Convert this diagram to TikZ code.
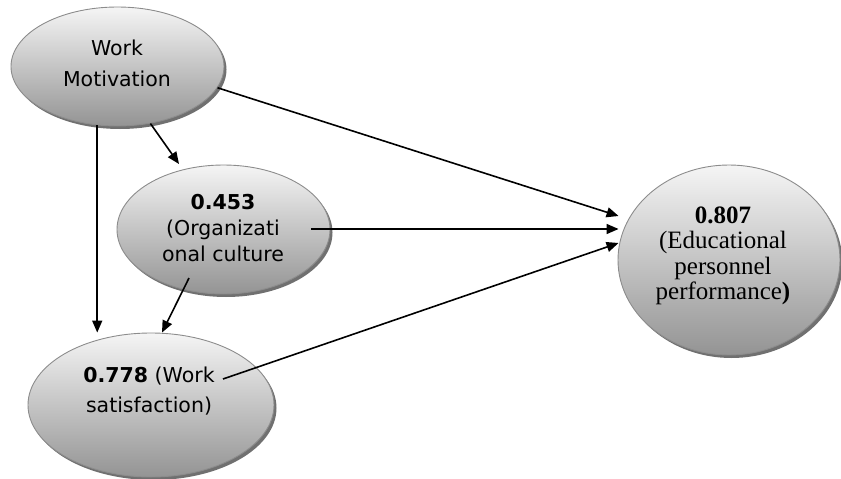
\documentclass[tikz,border=0pt]{standalone}
\usepackage{fontspec}
\setmainfont{Liberation Serif}
\newfontfamily\labsans{DejaVu Sans}
\usetikzlibrary{arrows.meta,shadows,shapes.geometric,calc}
\begin{document}
\begin{tikzpicture}[x=1pt,y=-1pt,
  bubble/.style={ellipse, draw=black!45, line width=0.9pt, inner sep=0pt,
    top color=black!4, bottom color=black!42,
    drop shadow={shadow xshift=2.5pt, shadow yshift=-3pt, fill=black!70, opacity=0.8}},
  sanslab/.style={align=center, inner sep=0pt, font=\labsans\fontsize{20.5}{#1}\selectfont},
  seriflab/.style={align=center, inner sep=0pt, font=\fontsize{25}{25.5}\selectfont},
  arr/.style={line width=1.6pt, -{Triangle[length=12pt,width=10pt]}}]
\useasboundingbox (0,0) rectangle (841,479);
% ellipses
\node[bubble, minimum width=213pt, minimum height=119pt] (wm) at (117.5,66.5) {};
\node[bubble, minimum width=213pt, minimum height=129pt] (oc) at (223.5,229.5) {};
\node[bubble, minimum width=246pt, minimum height=144pt] (ws) at (151,405) {};
\node[bubble, minimum width=222pt, minimum height=190pt] (ep) at (729,260) {};
% labels
\node[sanslab=31] (wmt) at (117,63) {Work\\Motivation};
\node[sanslab=26] (oct) at (223,228) {\textbf{0.453}\\(Organizati\\onal culture};
\node[sanslab=30] (wst) at (149,391) {\textbf{0.778} (Work\\satisfaction)};
\node[seriflab] (ept) at (723,256) {\textbf{0.807}\\(Educational\\personnel\\performance\textbf{)}};
% connector ends
\coordinate (ocs) at ($(oc.center)+(87.5,-0.5)$);
\coordinate (ocd) at ($(oc.center)+(-34.5,48.5)$);
\coordinate (wss) at ($(ws.center)+(72,-26)$);
\coordinate (ep1) at ($(ep.west)+(1,-44)$);
\coordinate (ep2) at ($(ep.west)+(1,-31)$);
\coordinate (ep3) at ($(ep.west)+(1,-17)$);
\coordinate (oct1) at ($(oc.center)+(-44.5,-65.5)$);
\coordinate (wsn) at ($(ws.north)+(11,0)$);
% connectors
\draw[arr] (wm.-12) -- (ep1);
\draw[arr] (ocs) -- (ep2);
\draw[arr] (wss) -- (ep3);
\draw[arr] (wm.-60) -- (oct1);
\draw[arr] (wm.-109) -- (wm.-109 |- ws.north);
\draw[arr] (ocd) -- (wsn);
\end{tikzpicture}
\end{document}
